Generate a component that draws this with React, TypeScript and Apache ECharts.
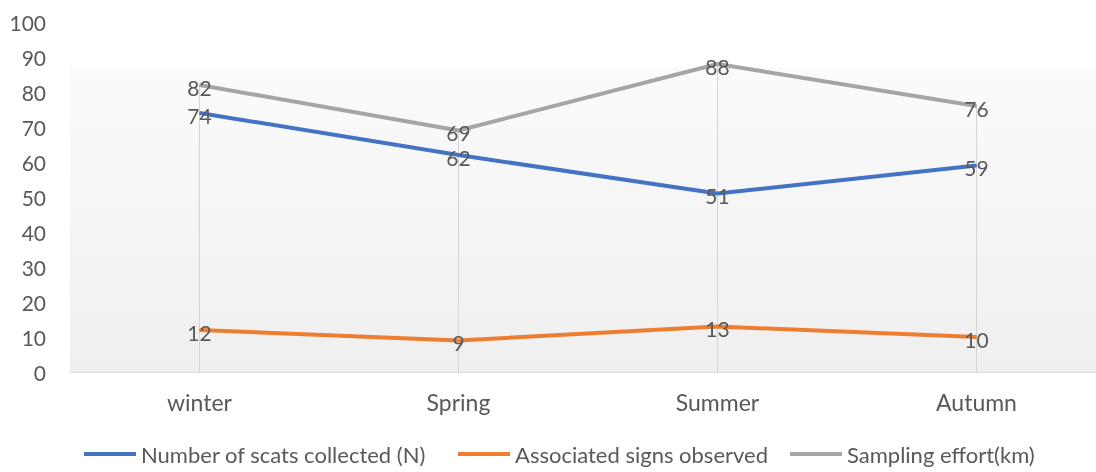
import React, { useEffect, useRef } from "react";
import * as echarts from "echarts";

const categories = ["winter", "Spring", "Summer", "Autumn"];
const scats = [74, 62, 51, 59];
const signs = [12, 9, 13, 10];
const effort = [82, 69, 88, 76];
const seriesNames = ["Number of scats collected (N)", "Associated signs observed", "Sampling effort(km)"];

const FONT = "Lato, 'Open Sans', sans-serif";
const TXT = "#595959";
const legendLefts = [84, 458, 790];

export default function App() {
  const ref = useRef<HTMLDivElement>(null);
  useEffect(() => {
    const chart = echarts.init(ref.current!, null, { renderer: "svg" });
    const label = {
      show: true,
      position: "inside",
      color: TXT,
      fontSize: 21,
      fontFamily: FONT,
      offset: [0, 2],
    };
    const lineSeries = (name: string, data: number[], color: string) => ({
      name,
      type: "line",
      data,
      symbol: "circle",
      symbolSize: 1,
      lineStyle: { color, width: 4 },
      itemStyle: { color },
      label,
      z: 3,
    });
    chart.setOption({
      animation: false,
      textStyle: { fontFamily: FONT },
      graphic: [
        {
          type: "rect",
          shape: { x: 70, y: 68, width: 1030, height: 304 },
          style: {
            fill: new echarts.graphic.LinearGradient(0, 0, 0, 1, [
              { offset: 0, color: "#fbfbfb" },
              { offset: 1, color: "#efefef" },
            ]),
          },
          z: -10,
          silent: true,
        },
      ],
      grid: {
        left: 70,
        right: -10,
        top: 22,
        bottom: 100,
        containLabel: false,
        outerBoundsMode: "none",
      },
      legend: seriesNames.map((n, i) => ({
        left: legendLefts[i],
        top: 443,
        padding: 0,
        itemWidth: 52,
        itemHeight: 4,
        icon: "rect",
        data: [n],
        textStyle: { color: TXT, fontSize: 22, fontFamily: FONT },
      })),
      xAxis: {
        type: "category",
        data: categories,
        axisLine: { lineStyle: { color: "#d9d9d9", width: 1 } },
        axisTick: { show: false },
        axisLabel: { color: TXT, fontSize: 23, fontFamily: FONT, margin: 18 },
      },
      yAxis: {
        type: "value",
        min: 0,
        max: 100,
        interval: 10,
        axisLine: { show: false },
        axisTick: { show: false },
        splitLine: { show: false },
        axisLabel: { color: TXT, fontSize: 21, fontFamily: FONT, margin: 24 },
      },
      series: [
        {
          name: "drop",
          type: "bar",
          data: effort,
          barWidth: 1,
          itemStyle: { color: "#d4d4d4" },
          silent: true,
          z: 1,
        },
        lineSeries(seriesNames[0], scats, "#4472C4"),
        lineSeries(seriesNames[1], signs, "#ED7D31"),
        lineSeries(seriesNames[2], effort, "#A5A5A5"),
      ],
    });
    return () => chart.dispose();
  }, []);
  return (
    <div
      ref={ref}
      style={{ position: "fixed", left: 0, top: 0, width: 1096, height: 472 }}
    />
  );
}
